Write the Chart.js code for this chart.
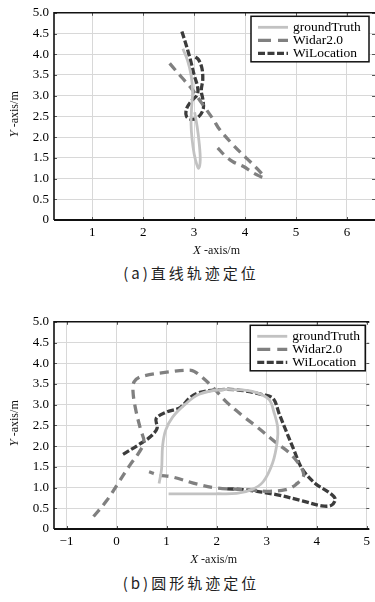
<!DOCTYPE html>
<html>
<head>
<meta charset="utf-8">
<script src="https://cdn.jsdelivr.net/npm/chart.js@4.4.1/dist/chart.umd.min.js"></script>
<style>
  body { margin: 0; background: #fff; }
  .wrap { position: absolute; left: 0; width: 375px; }
  .caption {
    position: absolute; left: 0; width: 382px; text-align: center;
    font-family: "Noto Sans CJK SC", sans-serif; font-size: 15px;
    letter-spacing: 3px; color: #222; line-height: 20px;
  }
</style>
</head>
<body>
<div class="wrap" style="top:0"><canvas id="chartA" width="375" height="262"></canvas></div>
<div class="caption" style="top:263px">(a)直线轨迹定位</div>
<div class="wrap" style="top:309px"><canvas id="chartB" width="375" height="262"></canvas></div>
<div class="caption" style="top:573px">(b)圆形轨迹定位</div>
<script>
// series names
const seriesNames = ['groundTruth', 'Widar2.0', 'WiLocation'];

// tick labels
const yTicks = [0, 0.5, 1, 1.5, 2, 2.5, 3, 3.5, 4, 4.5, 5];
const xTicksA = [1, 2, 3, 4, 5, 6];
const xTicksB = [-1, 0, 1, 2, 3, 4, 5];

// (a) straight line trajectory
const gtAX = [2.78, 2.87, 2.94, 2.97, 2.95, 2.94, 2.96, 3.00, 3.05, 3.09, 3.12, 3.10, 3.06, 3.01];
const gtAY = [4.13, 3.85, 3.50, 3.10, 2.70, 2.30, 1.95, 1.60, 1.35, 1.25, 1.45, 1.85, 2.25, 2.60];
const widarAX = [2.52, 2.75, 2.95, 3.15, 3.38, 3.49, 3.76, 4.02, 4.22, 4.37, 4.17, 3.97, 3.77, 3.60, 3.45];
const widarAY = [3.78, 3.45, 3.17, 2.82, 2.42, 2.20, 1.82, 1.50, 1.26, 1.03, 1.13, 1.29, 1.40, 1.56, 1.76];
const wilocAX = [2.76, 2.85, 2.93, 3.00, 3.07, 3.06, 2.95, 2.85, 2.85, 2.94, 3.08, 3.18, 3.17, 3.14, 3.17, 3.15, 3.08, 3.00];
const wilocAY = [4.55, 4.20, 3.85, 3.50, 3.20, 3.02, 2.88, 2.68, 2.50, 2.43, 2.48, 2.68, 2.92, 3.12, 3.40, 3.68, 3.88, 3.95];

// (b) circular trajectory
const gtBX = [1.04, 1.50, 2.00, 2.40, 2.70, 2.93, 3.12, 3.21, 3.22, 3.15, 3.05, 2.80, 2.55, 2.05, 1.65, 1.38, 1.12, 0.98, 0.92, 0.90, 0.85];
const gtBY = [0.85, 0.85, 0.85, 0.86, 0.95, 1.14, 1.60, 2.10, 2.45, 2.80, 3.12, 3.29, 3.35, 3.36, 3.25, 3.02, 2.70, 2.38, 2.00, 1.45, 1.10];
const widarBX = [-0.46, -0.20, 0.03, 0.26, 0.45, 0.55, 0.48, 0.38, 0.33, 0.35, 0.50, 1.04, 1.49, 1.62, 1.90, 2.21, 2.50, 2.80, 3.19, 3.51, 3.74, 3.58, 3.38, 3.06, 2.54, 2.01, 1.62, 1.10, 0.84, 0.65];
const widarBY = [0.30, 0.68, 1.10, 1.53, 1.85, 2.10, 2.40, 2.90, 3.30, 3.55, 3.68, 3.79, 3.83, 3.75, 3.45, 3.05, 2.75, 2.47, 2.08, 1.77, 1.32, 1.07, 0.95, 0.91, 0.95, 0.99, 1.08, 1.26, 1.30, 1.38];
const wilocBX = [0.13, 0.45, 0.68, 0.81, 0.79, 0.97, 1.27, 1.46, 1.62, 2.01, 2.40, 2.93, 3.13, 3.25, 3.38, 3.54, 3.71, 3.97, 4.26, 4.37, 4.29, 4.10, 3.71, 3.19, 2.54, 2.21];
const wilocBY = [1.80, 2.04, 2.23, 2.43, 2.66, 2.81, 2.93, 3.16, 3.28, 3.36, 3.36, 3.24, 3.15, 2.78, 2.39, 1.92, 1.45, 1.10, 0.87, 0.72, 0.57, 0.56, 0.68, 0.83, 0.95, 0.97];

const serif = '"Liberation Serif", "DejaVu Serif", serif';
const styles = [
    { borderColor: '#c2c2c2', borderWidth: 2.8, borderDash: [] },
    { borderColor: '#808080', borderWidth: 3.3, borderDash: [9, 6] },
    { borderColor: '#3c3c3c', borderWidth: 3.3, borderDash: [7, 2.5] }
];

function pts(xs, ys) {
    return xs.map((x, i) => ({ x: x, y: ys[i] }));
}

// frame, inner tick marks, axis titles and legend box
const decorPlugin = {
    id: 'decor',
    afterDraw(chart) {
        const ctx = chart.ctx;
        const a = chart.chartArea;
        const xs = chart.scales.x, ys = chart.scales.y;
        ctx.save();
        // small inward tick marks
        ctx.strokeStyle = '#555';
        ctx.lineWidth = 1;
        xs.ticks.forEach(t => {
            const px = Math.round(xs.getPixelForValue(t.value)) + 0.5;
            ctx.beginPath(); ctx.moveTo(px, a.top); ctx.lineTo(px, a.top + 3); ctx.stroke();
            ctx.beginPath(); ctx.moveTo(px, a.bottom); ctx.lineTo(px, a.bottom - 3); ctx.stroke();
        });
        ys.ticks.forEach(t => {
            const py = Math.round(ys.getPixelForValue(t.value)) + 0.5;
            ctx.beginPath(); ctx.moveTo(a.right, py); ctx.lineTo(a.right - 3, py); ctx.stroke();
            ctx.beginPath(); ctx.moveTo(a.left, py); ctx.lineTo(a.left + 3, py); ctx.stroke();
        });
        // frame
        ctx.strokeStyle = '#111';
        ctx.lineWidth = 1.6;
        ctx.beginPath();
        ctx.moveTo(a.right, a.top); ctx.lineTo(a.left, a.top);
        ctx.lineTo(a.left, a.bottom);
        ctx.stroke();
        ctx.lineWidth = 2;
        ctx.beginPath();
        ctx.moveTo(a.left, a.bottom); ctx.lineTo(a.right, a.bottom);
        ctx.stroke();

        // x title
        ctx.fillStyle = '#111';
        ctx.textBaseline = 'middle';
        const f1 = 'italic 13px ' + serif, f2 = '12px ' + serif;
        ctx.font = f1; const w1 = ctx.measureText('X').width;
        ctx.font = f2; const w2 = ctx.measureText(' -axis/m').width;
        let tx = (a.left + a.right) / 2 - (w1 + w2) / 2 + 2;
        const ty = a.bottom + 31;
        ctx.textAlign = 'left';
        ctx.font = f1; ctx.fillText('X', tx, ty);
        ctx.font = f2; ctx.fillText(' -axis/m', tx + w1, ty);
        // y title
        ctx.save();
        ctx.translate(15, (a.top + a.bottom) / 2 - 2);
        ctx.rotate(-Math.PI / 2);
        ctx.font = f1; const v1 = ctx.measureText('Y').width;
        ctx.font = f2; const v2 = ctx.measureText(' -axis/m').width;
        const vx = -(v1 + v2) / 2;
        ctx.font = f1; ctx.fillText('Y', vx, 0);
        ctx.font = f2; ctx.fillText(' -axis/m', vx + v1, 0);
        ctx.restore();

        // legend
        const lg = chart.options.plugins.decor;
        const bx = a.right - lg.right - lg.width, by = a.top + 3.5;
        ctx.fillStyle = '#fff';
        ctx.fillRect(bx, by, lg.width, 45.5);
        ctx.strokeStyle = '#111';
        ctx.lineWidth = 1.5;
        ctx.strokeRect(bx, by, lg.width, 45.5);
        chart.data.datasets.forEach((ds, i) => {
            const ry = by + 11 + i * 13;
            ctx.strokeStyle = ds.borderColor;
            ctx.lineWidth = ds.borderWidth;
            ctx.setLineDash(i === 1 ? [13, 7] : ds.borderDash);
            ctx.beginPath();
            ctx.moveTo(bx + 7, ry); ctx.lineTo(bx + 37, ry);
            ctx.stroke();
            ctx.setLineDash([]);
            ctx.fillStyle = '#000';
            ctx.font = '13.5px ' + serif;
            ctx.textAlign = 'left';
            ctx.fillText(ds.label, bx + 42, ry);
        });
        ctx.restore();
    }
};

function makeChart(id, series, xMin, xMax, xTicks, legend) {
    const ctx = document.getElementById(id).getContext('2d');
    return new Chart(ctx, {
        type: 'scatter',
        data: {
            datasets: series.map((s, i) => ({
                label: seriesNames[i],
                data: s,
                showLine: true,
                fill: false,
                pointRadius: 0,
                tension: 0.35,
                borderCapStyle: 'butt',
                borderColor: styles[i].borderColor,
                borderWidth: styles[i].borderWidth,
                borderDash: styles[i].borderDash
            }))
        },
        options: {
            responsive: false,
            animation: false,
            layout: { padding: { top: 6, right: 0, bottom: 0, left: 0 } },
            plugins: {
                legend: { display: false },
                tooltip: { enabled: false },
                decor: legend
            },
            scales: {
                x: {
                    type: 'linear',
                    min: xMin,
                    max: xMax,
                    afterBuildTicks: s => { s.ticks = xTicks.map(v => ({ value: v })); },
                    afterFit: s => { s.height = 42; },
                    grid: { color: '#d8d8d8', lineWidth: 1, drawTicks: false },
                    border: { display: false },
                    ticks: {
                        padding: 5,
                        color: '#000',
                        font: { family: serif, size: 13 },
                        callback: v => (v < 0 ? '\u22121' : String(v))
                    }
                },
                y: {
                    type: 'linear',
                    min: 0,
                    max: 5,
                    afterBuildTicks: s => { s.ticks = yTicks.map(v => ({ value: v })); },
                    afterFit: s => { s.width = 54; },
                    grid: { color: '#d8d8d8', lineWidth: 1, drawTicks: false },
                    border: { display: false },
                    ticks: {
                        padding: 5,
                        color: '#000',
                        font: { family: serif, size: 13 },
                        callback: v => (v === 0 ? '0' : v.toFixed(1))
                    }
                }
            }
        },
        plugins: [decorPlugin]
    });
}

makeChart('chartA',
    [pts(gtAX, gtAY), pts(widarAX, widarAY), pts(wilocAX, wilocAY)],
    0.25, 6.55, xTicksA, { right: 6, width: 118 });
makeChart('chartB',
    [pts(gtBX, gtBY), pts(widarBX, widarBY), pts(wilocBX, wilocBY)],
    -1.25, 5.05, xTicksB, { right: 4, width: 115 });
</script>
</body>
</html>
